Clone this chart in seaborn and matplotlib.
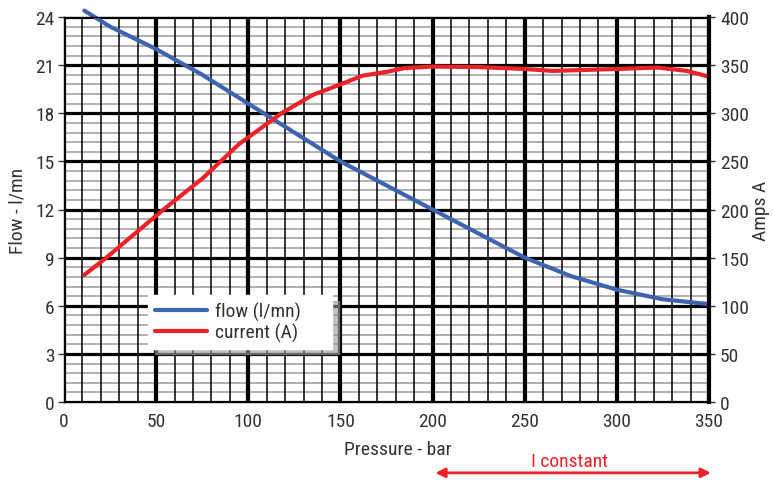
import matplotlib
matplotlib.use('Agg')
import matplotlib.pyplot as plt
from matplotlib.ticker import MultipleLocator
import pandas as pd
import seaborn as sns

# values
pressure_flow = [11, 25, 50, 75, 100, 125, 150, 175, 200, 225, 250, 275, 300, 325, 350]
flow = [24.4, 23.4, 22.0, 20.4, 18.6, 16.8, 15.0, 13.5, 12.0, 10.5, 9.0, 7.85, 7.0, 6.4, 6.1]

pressure_amps = [11, 23, 54, 75, 95, 118, 135, 150, 162, 175, 185, 200, 225, 250, 265, 300, 322, 338, 350]
amps = [132, 150, 200, 232, 268, 300, 319, 330, 339, 343, 347, 348.5, 348, 346, 344, 346, 347.5, 344, 338]

x_ticks = [0, 50, 100, 150, 200, 250, 300, 350]
flow_ticks = [0, 3, 6, 9, 12, 15, 18, 21, 24]
amps_ticks = [0, 50, 100, 150, 200, 250, 300, 350, 400]

blue = '#3f64af'
red = '#ec2229'
text_col = '#333333'

sns.set_style('white')
plt.rcParams['font.family'] = ['Liberation Sans Narrow', 'Roboto Condensed', 'DejaVu Sans']
plt.rcParams['text.color'] = text_col
plt.rcParams['axes.labelcolor'] = text_col
plt.rcParams['xtick.color'] = text_col
plt.rcParams['ytick.color'] = text_col

df_flow = pd.DataFrame({'pressure': pressure_flow, 'flow': flow})
df_amps = pd.DataFrame({'pressure': pressure_amps, 'amps': amps})

fig = plt.figure(figsize=(7.73, 4.81), dpi=100)
ax = fig.add_axes([64 / 773, 1 - 403 / 481, 645 / 773, 385 / 481])
ax2 = ax.twinx()

ax.set_xlim(0, 350)
ax.set_ylim(0, 24)
ax2.set_ylim(0, 400)
ax.set_xticks(x_ticks)
ax.set_yticks(flow_ticks)
ax2.set_yticks(amps_ticks)
ax.xaxis.set_minor_locator(MultipleLocator(10))
ax.yaxis.set_minor_locator(MultipleLocator(0.6))

ax.set_axisbelow(True)
ax.xaxis.grid(True, which='major', color='black', lw=3)
ax.xaxis.grid(True, which='minor', color='black', lw=1.1)
ax.yaxis.grid(True, which='major', color='black', lw=2.3)
ax.yaxis.grid(True, which='minor', color='#9a9a9a', lw=1.1)
# vertical lines drawn over the gray horizontal ones
ax.xaxis.set_zorder(0.7)

sns.lineplot(data=df_flow, x='pressure', y='flow', ax=ax, color=blue, lw=3,
             label='flow (l/mn)', legend=False, clip_on=False)
sns.lineplot(data=df_amps, x='pressure', y='amps', ax=ax2, color=red, lw=3,
             label='current (A)', legend=False, clip_on=False)

ax.tick_params(axis='both', which='major', labelsize=14, length=4, width=1, pad=3)
ax.tick_params(axis='both', which='minor', length=0)
ax2.tick_params(axis='y', labelsize=14, length=4, width=1, pad=4)

for s in ['left', 'bottom', 'top']:
    ax.spines[s].set_linewidth(1)
    ax.spines[s].set_color('black')
    ax2.spines[s].set_visible(False)
ax.spines['right'].set_visible(False)
ax2.spines['right'].set_linewidth(3)
ax2.spines['right'].set_color('black')

ax.set_xlabel('Pressure - bar', fontsize=14)
ax.xaxis.set_label_coords(0.518, -0.1)
ax.set_ylabel('Flow - l/mn', fontsize=14, labelpad=6)
ax2.set_ylabel('Amps A', fontsize=14, labelpad=2)

h1, l1 = ax.get_legend_handles_labels()
h2, l2 = ax2.get_legend_handles_labels()
leg = ax2.legend(h1 + h2, l1 + l2, loc='upper left', mode='expand',
                 bbox_to_anchor=(0.13, 0.138, 0.285, 0.14),
                 fontsize=14, handlelength=2.7, frameon=True, fancybox=False,
                 shadow={'color': '0.6', 'alpha': 0.6, 'ox': 5, 'oy': -4}, borderpad=0.35,
                 labelspacing=0.1, handletextpad=0.4, borderaxespad=0)
leg.get_frame().set_edgecolor('white')
leg.get_frame().set_alpha(1)

trans = ax.get_xaxis_transform()
ax.annotate('', xy=(352.5, -0.184), xytext=(200, -0.184), xycoords=trans, textcoords=trans,
            arrowprops=dict(arrowstyle='<|-|>', color=red, lw=2, mutation_scale=14),
            annotation_clip=False)
ax.text(274.5, -0.152, 'I constant', transform=trans, color=red, fontsize=14,
        ha='center', va='center')

fig.savefig('out.png', dpi=100)
